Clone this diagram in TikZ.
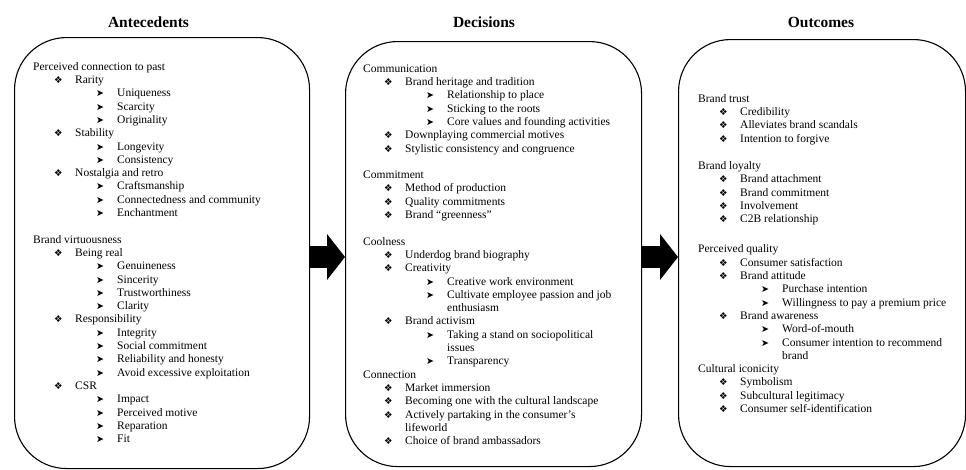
\documentclass[tikz,border=0pt]{standalone}
\usepackage{fontspec}
\setmainfont{Liberation Serif}
\newfontfamily\dingfont{DejaVu Sans}
\usetikzlibrary{arrows.meta,positioning,calc}

% bullets and indent levels
\newcommand\dmd{{\dingfont\fontsize{9.5}{8}\selectfont ❖}}
\newcommand\arw{{\dingfont\fontsize{9.5}{10}\selectfont ➤}}
\newcommand\grp[1]{\strut#1}
\newcommand\itB[1]{\hspace*{21pt}\makebox[21pt][l]{\dmd}#1}
\newcommand\itC[1]{\hspace*{63pt}\makebox[21pt][l]{\arw}#1}
\newcommand\itD[1]{\hspace*{84pt}#1}

\begin{document}
\begin{tikzpicture}[x=1pt,y=-1pt,
  panel/.style={draw,line width=1.1pt,rounded corners=52pt,anchor=north west,inner sep=0pt},
  head/.style={font=\fontsize{15.5}{18}\selectfont\bfseries,anchor=base},
  list/.style={anchor=north west,inner sep=0pt,align=left,font=\fontsize{11.5}{13.3}\selectfont},
  bigarrow/.style={line width=22pt,-{Triangle[length=18pt,width=46pt,line width=0pt]}}]
  \useasboundingbox (0,0) rectangle (966,469);
  \node[panel,minimum width=295pt,minimum height=431pt] (ant) at (14,37) {};
  \node[panel,minimum width=296pt,minimum height=425pt] (dec) at (345,41) {};
  \node[panel,minimum width=287pt,minimum height=427pt] (out) at (678,39) {};
  \node[head] (antH) at (148.5,27) {Antecedents};
  \node[head] (decH) at (484,27) {Decisions};
  \node[head] (outH) at (821,27) {Outcomes};
  \node[list] (antL) at (33,60.7) {\grp{Perceived connection to past}\\
    \itB{Rarity}\\ \itC{Uniqueness}\\ \itC{Scarcity}\\ \itC{Originality}\\
    \itB{Stability}\\ \itC{Longevity}\\ \itC{Consistency}\\
    \itB{Nostalgia and retro}\\ \itC{Craftsmanship}\\ \itC{Connectedness and community}\\ \itC{Enchantment}\\[13.3pt]
    Brand virtuousness\\
    \itB{Being real}\\ \itC{Genuineness}\\ \itC{Sincerity}\\ \itC{Trustworthiness}\\ \itC{Clarity}\\
    \itB{Responsibility}\\ \itC{Integrity}\\ \itC{Social commitment}\\ \itC{Reliability and honesty}\\ \itC{Avoid excessive exploitation}\\
    \itB{CSR}\\ \itC{Impact}\\ \itC{Perceived motive}\\ \itC{Reparation}\\ \itC{Fit}};
  \node[list] (decL) at (363,62.7) {\grp{Communication}\\
    \itB{Brand heritage and tradition}\\ \itC{Relationship to place}\\ \itC{Sticking to the roots}\\ \itC{Core values and founding activities}\\
    \itB{Downplaying commercial motives}\\ \itB{Stylistic consistency and congruence}\\[13.3pt]
    Commitment\\
    \itB{Method of production}\\ \itB{Quality commitments}\\ \itB{Brand ``greenness''}\\[13.3pt]
    Coolness\\
    \itB{Underdog brand biography}\\ \itB{Creativity}\\ \itC{Creative work environment}\\ \itC{Cultivate employee passion and job}\\ \itD{enthusiasm}\\
    \itB{Brand activism}\\ \itC{Taking a stand on sociopolitical}\\ \itD{issues}\\ \itC{Transparency}\\
    Connection\\
    \itB{Market immersion}\\ \itB{Becoming one with the cultural landscape}\\ \itB{Actively partaking in the consumer’s}\\ \hspace*{42pt}lifeworld\\
    \itB{Choice of brand ambassadors}};
  \node[list] (outL) at (698,92.7) {\grp{Brand trust}\\
    \itB{Credibility}\\ \itB{Alleviates brand scandals}\\ \itB{Intention to forgive}\\[14pt]
    Brand loyalty\\
    \itB{Brand attachment}\\ \itB{Brand commitment}\\ \itB{Involvement}\\ \itB{C2B relationship}\\[17pt]
    Perceived quality\\
    \itB{Consumer satisfaction}\\ \itB{Brand attitude}\\ \itC{Purchase intention}\\ \itC{Willingness to pay a premium price}\\
    \itB{Brand awareness}\\ \itC{Word-of-mouth}\\ \itC{Consumer intention to recommend}\\ \itD{brand}\\
    Cultural iconicity\\
    \itB{Symbolism}\\ \itB{Subcultural legitimacy}\\ \itB{Consumer self-identification}};
  \draw[bigarrow] (ant.east |- 0,257) -- (dec.west |- 0,257);
  \draw[bigarrow] (dec.east |- 0,257) -- (out.west |- 0,257);
\end{tikzpicture}
\end{document}
